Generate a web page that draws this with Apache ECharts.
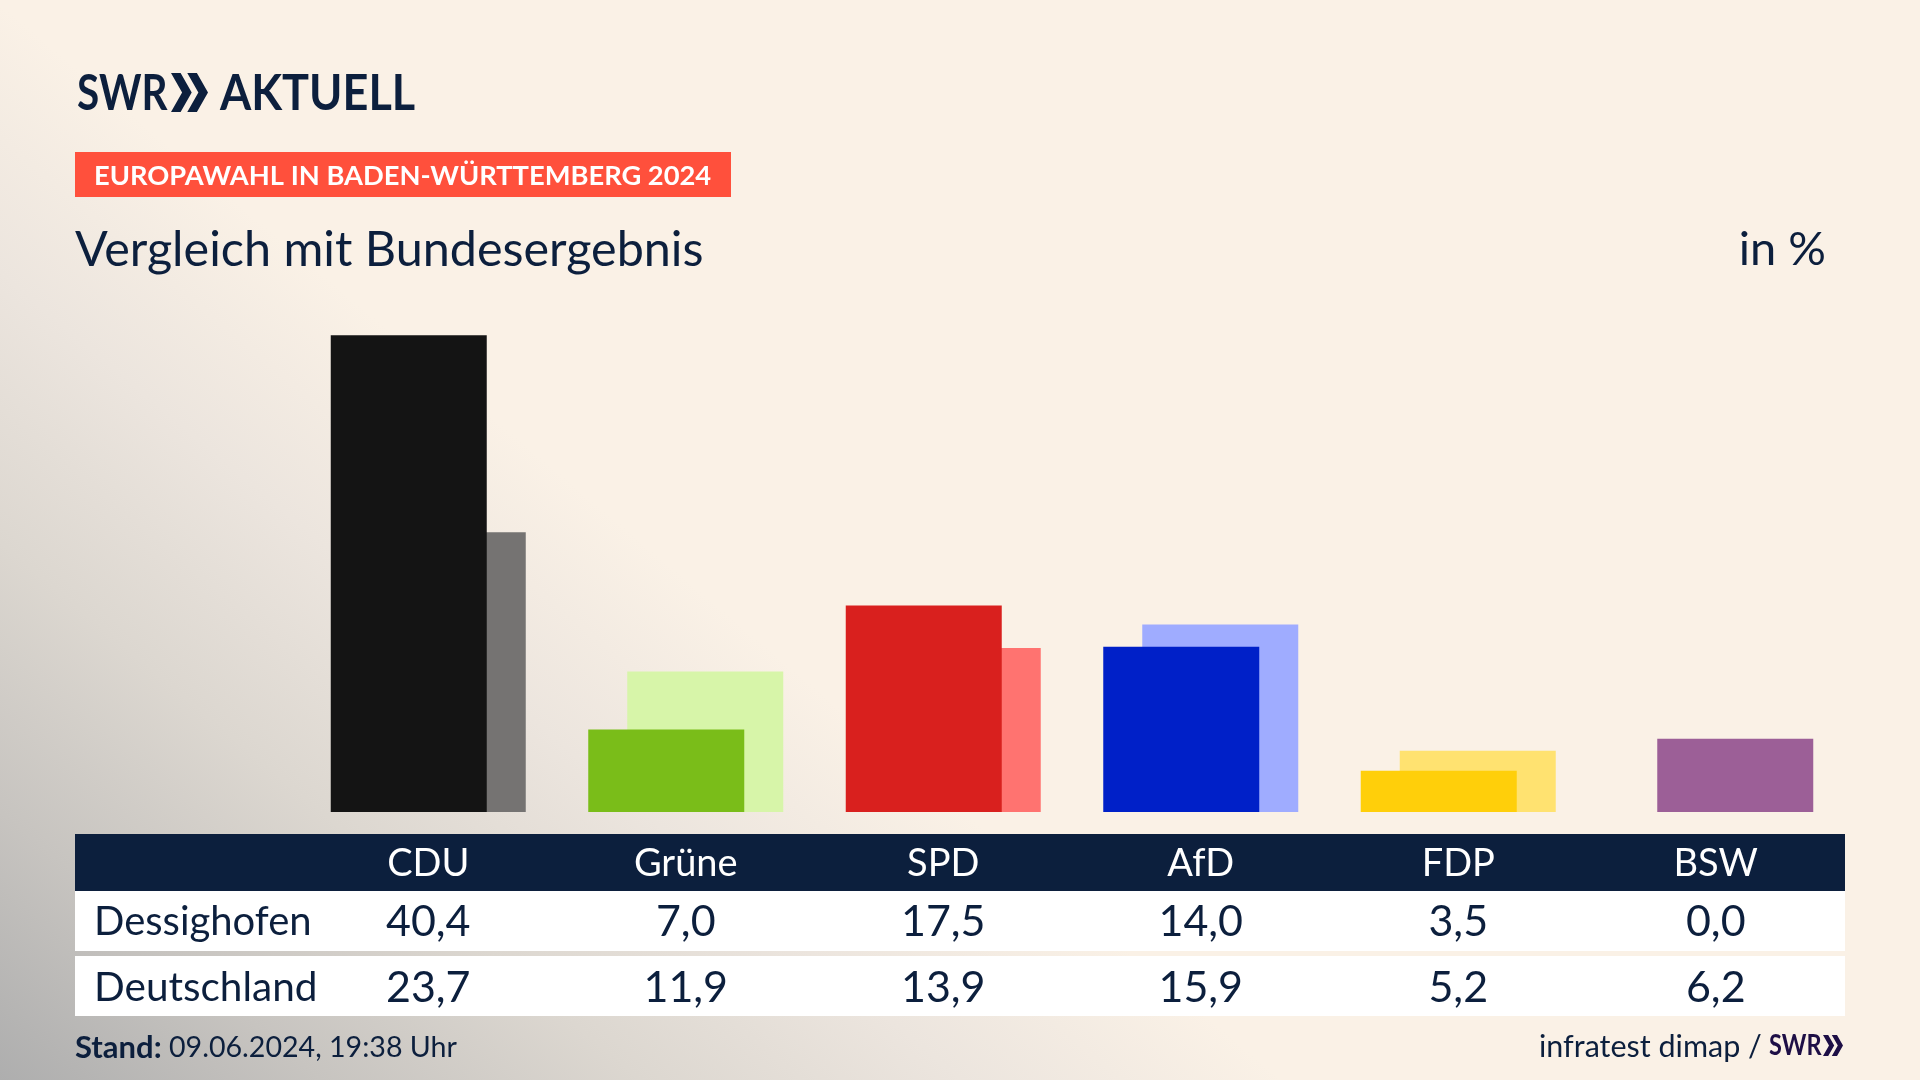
<!DOCTYPE html>
<html>
<head>
<meta charset="utf-8">
<title>Europawahl Dessighofen</title>
<script src="https://cdn.jsdelivr.net/npm/echarts@6/dist/echarts.min.js"></script>
<style>
  html, body { margin: 0; padding: 0; background: #faf1e6; }
  #main {
    width: 1920px; height: 1080px;
    background: linear-gradient(220deg, #faf1e6 60%, #ece5de 70%, #dcd7d0 80%, #c7c4c0 90%, #aeaeae 100%);
  }
</style>
</head>
<body>
<div id="main"></div>
<script>
var parties = ['CDU', 'Grüne', 'SPD', 'AfD', 'FDP', 'BSW'];
var dessighofen = [40.4, 7.0, 17.5, 14.0, 3.5, 0.0];
var deutschland = [23.7, 11.9, 13.9, 15.9, 5.2, 6.2];
var darkColors = ['#141414', '#7abd19', '#d9201e', '#0020c8', '#ffcf0a', '#9c5f97'];
var lightColors = ['#757372', '#d7f5a9', '#ff7370', '#9facff', '#ffe270', '#9c5f97'];

var navy = '#0c1f3d';
var fontName = 'Lato';

function fmt(v) {
  return v.toFixed(1).replace('.', ',');
}

function tableAxis(labels, margin, color, size) {
  return {
    type: 'category',
    position: 'bottom',
    data: labels,
    z: 10,
    axisLine: { show: false, onZero: false },
    axisTick: { show: false },
    axisLabel: {
      interval: 0,
      margin: margin,
      color: color,
      fontFamily: fontName,
      fontSize: size,
      verticalAlign: 'middle'
    }
  };
}

function box(x, y, w, h, fill) {
  return { type: 'rect', z: -1, shape: { x: x, y: y, width: w, height: h }, style: { fill: fill } };
}

function label(x, y, text, size, color, weight, align, scaleX) {
  return {
    type: 'text', z: 5, x: x, y: y, scaleX: scaleX || 1,
    style: {
      text: text, fill: color, fontFamily: fontName, fontSize: size,
      fontWeight: weight || 'normal', align: align || 'left', verticalAlign: 'middle'
    }
  };
}

// doppelter Pfeil aus dem Logo
function chevrons(x, y, w, h, color) {
  var c = w * 0.26;
  var t = w * 0.56;
  return [0, w - t].map(function (dx) {
    return {
      type: 'polygon', z: 5,
      shape: { points: [[x + dx, y], [x + dx + c, y], [x + dx + t, y + h / 2], [x + dx + c, y + h], [x + dx, y + h], [x + dx + t - c, y + h / 2]] },
      style: { fill: color }
    };
  });
}

var myChart = echarts.init(document.getElementById('main'), null, { renderer: 'canvas' });

myChart.setOption({
  animation: false,
  backgroundColor: 'transparent',
  grid: { left: 299.5, right: 75.5, top: 222, bottom: 268 },
  xAxis: [
    tableAxis(parties, 52, '#ffffff', 38),
    tableAxis(dessighofen.map(fmt), 110, navy, 43),
    tableAxis(deutschland.map(fmt), 176, navy, 43)
  ],
  yAxis: { type: 'value', min: 0, max: 50, show: false },
  graphic: [
    box(75, 152, 656, 45, '#ff503c'),
    box(75, 834, 1770, 57, navy),
    box(75, 891, 1770, 60, '#ffffff'),
    box(75, 956, 1770, 60, '#ffffff'),
    label(77, 94, 'SWR', 50, navy, 'bold', 'left', 0.81),
    label(220, 94, 'AKTUELL', 50, navy, 'bold', 'left', 0.9),
    label(94, 176, 'EUROPAWAHL IN BADEN-WÜRTTEMBERG 2024', 27.3, '#ffffff', 'bold'),
    label(75, 250, 'Vergleich mit Bundesergebnis', 48.5, navy),
    label(1826, 250, 'in %', 47, navy, 'normal', 'right'),
    label(94, 922, 'Dessighofen', 40, navy),
    label(94, 988, 'Deutschland', 40.5, navy),
    label(75, 1048, 'Stand:', 31, navy, 'bold'),
    label(169, 1048, '09.06.2024, 19:38 Uhr', 28.6, navy),
    label(1539, 1047, 'infratest dimap /', 30.5, navy),
    label(1769, 1046, 'SWR', 29, '#1e0f46', 'bold', 'left', 0.81)
  ].concat(chevrons(171, 73, 37, 39, navy), chevrons(1823, 1035, 20, 21, '#1e0f46')),
  series: [
    {
      name: 'Dessighofen',
      type: 'bar',
      data: dessighofen,
      barWidth: 156,
      barGap: '-75%',
      z: 3,
      itemStyle: { color: function (p) { return darkColors[p.dataIndex]; } }
    },
    {
      name: 'Deutschland',
      type: 'bar',
      data: deutschland,
      barWidth: 156,
      barGap: '-75%',
      z: 2,
      itemStyle: { color: function (p) { return lightColors[p.dataIndex]; } }
    }
  ]
});
</script>
</body>
</html>
